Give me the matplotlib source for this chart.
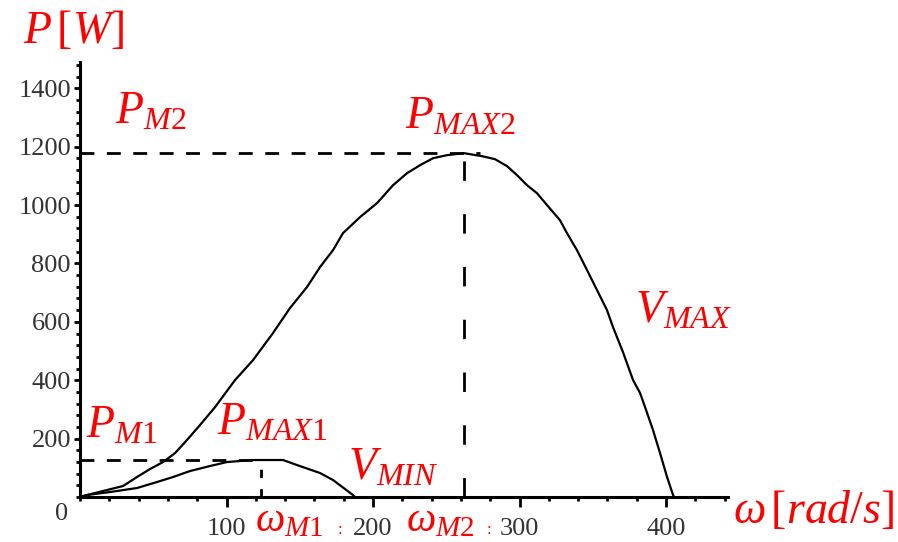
import matplotlib.pyplot as plt
from matplotlib.ticker import MultipleLocator

plt.rcParams['font.family'] = 'Liberation Serif'
plt.rcParams['mathtext.fontset'] = 'custom'
plt.rcParams['mathtext.rm'] = 'Liberation Serif'
plt.rcParams['mathtext.it'] = 'Liberation Serif:italic'

# Curva de potencia a velocidad maxima (V_MAX)
w_vmax = [0, 4.8, 15.7, 29.4, 38.9, 47.8, 56.7, 64.9, 73.0, 81.9, 92.2, 105.8,
          118.1, 131.7, 143.3, 154.9, 163.8, 172.7, 179.5, 191.1, 202.7, 213.7,
          223.2, 232.1, 241.0, 250.5, 262.1, 274.4, 283.3, 291.5, 298.3, 305.1,
          311.9, 318.8, 327.6, 332.4, 339.2, 346.1, 352.9, 359.7, 363.8, 370.6,
          377.5, 382.3, 387.1, 391.1, 395.9, 400.7, 404.8, 405.5]
p_vmax = [0, 6.8, 20.5, 37.7, 68.5, 95.9, 119.8, 150.6, 195.1, 246.5, 308.1, 400.5,
          469, 561.5, 647, 719, 787.4, 845.6, 903.8, 958.6, 1006.5, 1068.1,
          1109.2, 1136.6, 1160.6, 1170.9, 1177.7, 1167.4, 1157.1, 1133.2, 1102.4, 1068.1,
          1040.7, 999.7, 948.3, 903.8, 845.6, 777.1, 708.7, 640.2, 582, 496.4,
          400.5, 356, 287.6, 229.4, 150.6, 68.5, 6.8, 0]

# Curva de potencia a velocidad minima (V_MIN)
w_vmin = [0, 4.8, 20.5, 38.9, 52.6, 63.5, 75.1, 88.7, 100.3, 118.1, 138.6,
          148.1, 163.8, 172.7, 186.3, 187.7]
p_vmin = [0, 6.8, 17.1, 30.8, 51.4, 68.5, 89, 106.1, 119.8, 126.7, 126.7,
          109.5, 82.2, 58.2, 6.8, 0]

# Puntos de maxima potencia
w_m1, p_max1 = 123.5, 127
w_m2, p_max2 = 262.1, 1178

x_ticks = [100, 200, 300, 400]
y_ticks = [200, 400, 600, 800, 1000, 1200, 1400]

rojo = '#ff0000'
gris = '#333333'

fig = plt.figure(figsize=(8.98, 5.42), dpi=100)
ax = fig.add_axes([0.0891, 0.0830, 0.7211, 0.8026])

ax.plot(w_vmax, p_vmax, color='black', lw=1.6)
ax.plot(w_vmin, p_vmin, color='black', lw=1.6)

# lineas discontinuas
ax.plot([0, 273], [p_max2, p_max2], color='black', lw=2, dashes=(5, 4.5))
ax.plot([w_m2, w_m2], [0, p_max2], color='black', lw=2, dashes=(7, 12))
ax.plot([0, w_m1], [p_max1, p_max1], color='black', lw=2, dashes=(5, 4.5))
ax.plot([w_m1, w_m1], [0, p_max1], color='black', lw=2, dashes=(3, 4))

ax.set_xlim(0, 442)
ax.set_ylim(0, 1490)
ax.set_xticks(x_ticks)
ax.set_yticks(y_ticks)
ax.xaxis.set_minor_locator(MultipleLocator(20))
ax.yaxis.set_minor_locator(MultipleLocator(40))

for lado in ['top', 'right']:
    ax.spines[lado].set_visible(False)
for lado in ['left', 'bottom']:
    ax.spines[lado].set_linewidth(2.2)

ax.tick_params(axis='x', which='major', length=7, width=2, pad=8,
               labelsize=19, labelcolor=gris)
ax.tick_params(axis='x', which='minor', length=3, width=2)
ax.tick_params(axis='y', which='major', length=4.5, width=2, pad=2,
               labelsize=19, labelcolor=gris)
ax.tick_params(axis='y', which='minor', length=3, width=2)

ax.text(-12.3, -58, '0', fontsize=19, color=gris, ha='center', va='center')

# etiquetas
fs = 33
ax.text(-38.9, 1554, r'$P\,[W]$', fontsize=fs, color=rojo, clip_on=False)
ax.text(23.9, 1280, r'$P_{M2}$', fontsize=fs, color=rojo)
ax.text(221.8, 1260, r'$P_{MAX2}$', fontsize=fs, color=rojo)
ax.text(378.8, 596, r'$V_{MAX}$', fontsize=fs, color=rojo)
ax.text(4.1, 202, r'$P_{M1}$', fontsize=fs, color=rojo)
ax.text(93.5, 212, r'$P_{MAX1}$', fontsize=fs, color=rojo)
ax.text(183, 58, r'$V_{MIN}$', fontsize=fs, color=rojo)
ax.text(119.5, -118, r'$\omega_{M1}$', fontsize=30, color=rojo, clip_on=False)
ax.text(175.5, -128, ':', fontsize=12, color=rojo, clip_on=False)
ax.text(222.5, -118, r'$\omega_{M2}$', fontsize=30, color=rojo, clip_on=False)
ax.text(277.5, -128, ':', fontsize=12, color=rojo, clip_on=False)
ax.text(445.7, -89, r'$\omega\,[rad/s]$', fontsize=fs, color=rojo, clip_on=False)

fig.savefig('out.png', dpi=100)
